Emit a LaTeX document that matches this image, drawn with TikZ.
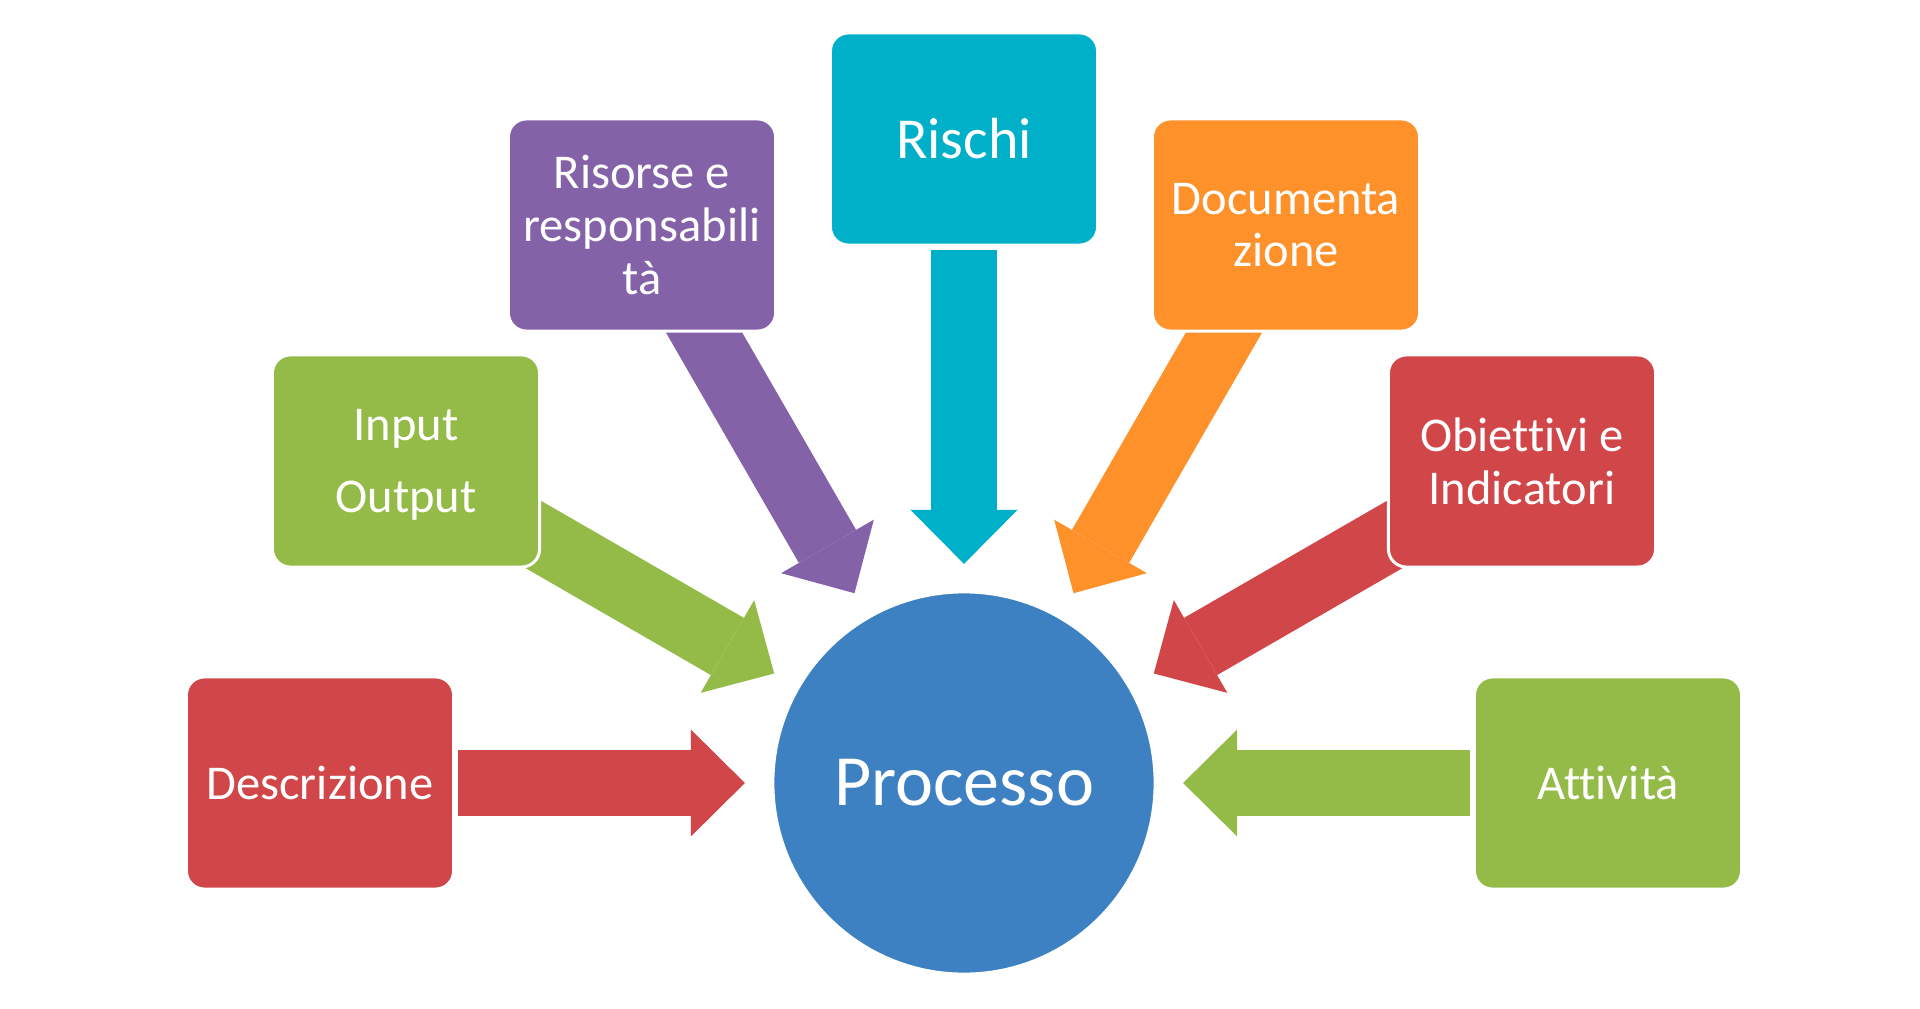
\documentclass[tikz,border=0pt]{standalone}
\usepackage{fontspec}
\setmainfont{Carlito}[Ligatures={NoCommon,NoContextual},Contextuals=NoAlternate]
\usetikzlibrary{arrows.meta,backgrounds}
\definecolor{rosso}{HTML}{D04649}
\definecolor{verde}{HTML}{94BB48}
\definecolor{viola}{HTML}{8462A8}
\definecolor{ciano}{HTML}{00AFC8}
\definecolor{arancio}{HTML}{FF912B}
\definecolor{blu}{HTML}{3D81C2}

\begin{document}
\begin{tikzpicture}[x=0.01cm,y=0.01cm,
  item/.style={rounded corners=0.18cm,draw=white,line width=0.03cm,fill=#1,text=white,
               minimum width=2.67cm,minimum height=2.12cm,align=center,inner sep=2pt,
               font=\fontsize{13.8}{15}\selectfont},
  conn/.style={draw=#1,line width=0.66cm,shorten >=2.19cm,
               -{Triangle[length=0.54cm,width=1.07cm,line width=0pt]}},
  ]
  \useasboundingbox (0,0) rectangle (1920,1008);
  % ---- centre ----
  \node[circle,fill=blu,draw=white,line width=0.03cm,minimum size=3.82cm,text=white,
        font=\fontsize{20.5}{24}\selectfont] (proc) at (964,225) {Processo};

  % ---- seven items on a half ring round the centre ----
  \node[item=rosso]   (desc) at (320,225)  {Descrizione};
  \node[item=verde]   (io)   at (406,547)  {\rule{0pt}{11pt}Input\\[5.5pt]Output};
  \node[item=viola]   (ris)  at (642,783)  {Risorse e\\responsabili\\tà};
  \node[item=ciano,font=\fontsize{16.5}{19}\selectfont] (rischi) at (964,869) {Rischi};
  \node[item=arancio] (doc)  at (1286,783) {Documenta\\zione};
  \node[item=rosso]   (obi)  at (1522,547) {Obiettivi e\\Indicatori};
  \node[item=verde]   (att)  at (1608,225) {Attività};

  % ---- converging block arrows (behind the boxes) ----
  \begin{scope}[on background layer]
    \draw[conn=rosso,shorten <=1.38cm]   (desc.center) -- (proc.center);
    \draw[conn=verde,shorten <=1cm]      (io.center) -- (proc.center);
    \draw[conn=viola,shorten <=1cm]      (ris.center) -- (proc.center);
    \draw[conn=ciano,shorten <=1.11cm]   (rischi.center) -- (proc.center);
    \draw[conn=arancio,shorten <=1cm]    (doc.center) -- (proc.center);
    \draw[conn=rosso,shorten <=1cm]      (obi.center) -- (proc.center);
    \draw[conn=verde,shorten <=1.38cm]   (att.center) -- (proc.center);
  \end{scope}
\end{tikzpicture}
\end{document}
